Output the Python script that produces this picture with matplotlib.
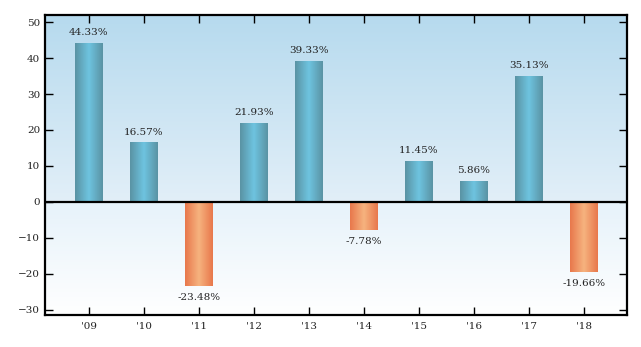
import numpy as np
import matplotlib.pyplot as plt
from matplotlib.colors import LinearSegmentedColormap

years = ["'09", "'10", "'11", "'12", "'13", "'14", "'15", "'16", "'17", "'18"]
returns = [44.33, 16.57, -23.48, 21.93, 39.33, -7.78, 11.45, 5.86, 35.13, -19.66]

plt.rcParams['font.family'] = ['DejaVu Serif']

fig = plt.figure(figsize=(6.41, 3.47), dpi=100)
ax = fig.add_axes([0.0702, 0.0922, 0.9078, 0.8646])

x = np.arange(len(years))
ymin, ymax = -31.5, 52
xmin, xmax = -0.8, 9.78
ax.set_xlim(xmin, xmax)
ax.set_ylim(ymin, ymax)

# background: blue wash above zero, fading to white below
up = LinearSegmentedColormap.from_list('up', ['#e2eff8', '#b6daee'])
down = LinearSegmentedColormap.from_list('down', ['#ffffff', '#e6f2fa'])
g = np.linspace(0, 1, 256).reshape(-1, 1)
ax.imshow(g, cmap=up, aspect='auto', extent=(xmin, xmax, 0, ymax),
          origin='lower', zorder=0)
ax.imshow(g, cmap=down, aspect='auto', extent=(xmin, xmax, ymin, 0),
          origin='lower', zorder=0)

blue = LinearSegmentedColormap.from_list('b', ['#5a93a4', '#6ec4e0', '#5a93a4'])
orange = LinearSegmentedColormap.from_list('o', ['#e8784c', '#f6b37f', '#e8784c'])
h = np.linspace(0, 1, 64).reshape(1, -1)

bars = ax.bar(x, returns, width=0.5, color='none', edgecolor='none', zorder=2)
for b, v in zip(bars, returns):
    x0 = b.get_x()
    cm_ = blue if v >= 0 else orange
    im = ax.imshow(h, cmap=cm_, aspect='auto',
                   extent=(x0, x0 + b.get_width(), min(0, v), max(0, v)),
                   zorder=2)
    im.set_clip_path(b)
    if v >= 0:
        ax.annotate(f'{v:.2f}%', (b.get_x() + b.get_width() / 2, v),
                    xytext=(0, 4), textcoords='offset points',
                    ha='center', va='bottom', fontsize=7.5, color='#222222')
    else:
        ax.annotate(f'{v:.2f}%', (b.get_x() + b.get_width() / 2, v),
                    xytext=(0, -5), textcoords='offset points',
                    ha='center', va='top', fontsize=7.5, color='#222222')

ax.set_xlim(xmin, xmax)
ax.set_ylim(ymin, ymax)
ax.axhline(0, color='black', lw=1.6, zorder=3)

ax.set_xticks(x)
ax.set_xticklabels(years)
ax.set_yticks(np.arange(-30, 51, 10))
ax.tick_params(direction='in', top=True, right=True, length=6, width=1,
               labelsize=7.5, colors='black', labelcolor='#222222')
ax.tick_params(axis='x', pad=5)
for s in ax.spines.values():
    s.set_linewidth(1.6)

fig.savefig('out.png', dpi=100)
